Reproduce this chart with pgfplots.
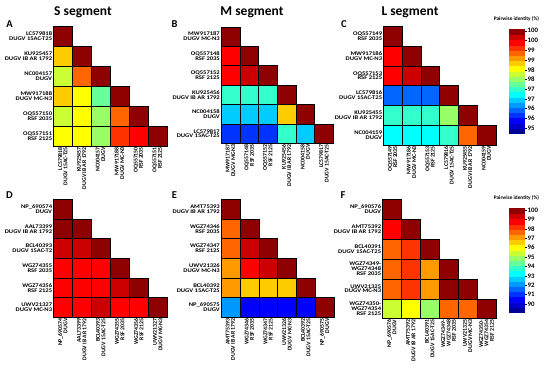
\documentclass[border=0pt]{standalone}
\usepackage{fontspec}
\setmainfont{Carlito}
\newfontfamily\ylabfont{Carlito}[FakeStretch=1.17]
\usepackage{pgfplots}
\pgfplotsset{compat=1.18}
\newcommand\ylab{\ylabfont\fontsize{5.6}{4.8}\selectfont\bfseries}
\newcommand\xlab{\fontsize{5.8}{5.4}\selectfont\bfseries}
\pgfplotsset{
 colormap={jetd}{rgb=(0,0,0.6) rgb=(0,0,0.8) rgb=(0,0,1) rgb=(0,0.2,1) rgb=(0,0.4,1) rgb=(0,0.6,1) rgb=(0,0.8,1) rgb=(0,1,1) rgb=(0.2,1,0.8) rgb=(0.4,1,0.6) rgb=(0.6,1,0.4) rgb=(0.8,1,0.2) rgb=(1,1,0) rgb=(1,0.8,0) rgb=(1,0.6,0) rgb=(1,0.4,0) rgb=(1,0.2,0) rgb=(1,0,0) rgb=(0.8,0,0) rgb=(0.56,0,0)},
 hm/.style 2 args={scale only axis, width=#1pt, height=#2pt, xmin=0.5, xmax=6.5, ymin=0.5, ymax=6.5, y dir=reverse, clip=false,
   axis line style={draw=none}, major tick length=0pt, tick style={draw=none},
   xtick={1,...,6}, ytick={1,...,6}, colormap name=jetd, colormap access=piecewise constant,
   xticklabel style={rotate=90, anchor=east, align=right, font=\xlab, inner sep=1pt},
   yticklabel style={align=right, font=\ylab, inner sep=1pt}},
 cells/.style 2 args={scatter, only marks, mark=square*, point meta=explicit,
   scatter/use mapped color={draw=black, fill=mapped color},
   mark size={#1pt/12}, mark options={yscale={#2/#1}, line width=0.3pt}},
 top/.style={point meta min=94.75, point meta max=100.09},
 bot/.style={point meta min=89.15, point meta max=100.21},
 cbar/.style={scale only axis, width=15pt, height=104pt, xmin=0, xmax=1, axis on top, clip=true,
   colormap name=jetd, colormap access=piecewise constant, xtick=\empty,
   ytick pos=right, yticklabel pos=right, tick align=outside, major tick length=2.5pt,
   tick style={draw=black, line width=0.4pt}, axis line style={line width=0.3pt},
   yticklabel style={font=\fontsize{6.8}{7}\selectfont\bfseries, inner sep=1pt},
   title={Pairwise identity (\%)}, title style={font=\fontsize{5.3}{6}\selectfont\bfseries, inner sep=1.5pt}},
 seg/.style={scatter, only marks, mark=square*, point meta=explicit,
   scatter/use mapped color={draw=mapped color, fill=mapped color},
   mark size=#1, mark options={xscale={7.5pt/(#1)}, line width=0.2pt}},
}
\begin{document}
\begin{tikzpicture}
\path[use as bounding box] (0,0) rectangle (550pt,-373pt);
% titles and panel letters
\node[font=\fontsize{13.5}{14}\selectfont\bfseries] at (83pt,-12pt) {S segment};
\node[font=\fontsize{13.5}{14}\selectfont\bfseries] at (252pt,-12pt) {M segment};
\node[font=\fontsize{13.5}{14}\selectfont\bfseries] at (410pt,-12pt) {L segment};
\node[font=\fontsize{10.5}{11}\selectfont\bfseries] at (9.5pt,-24pt) {A};
\node[font=\fontsize{10.5}{11}\selectfont\bfseries] at (174.5pt,-24pt) {B};
\node[font=\fontsize{10.5}{11}\selectfont\bfseries] at (344pt,-24pt) {C};
\node[font=\fontsize{10.5}{11}\selectfont\bfseries] at (9.5pt,-195pt) {D};
\node[font=\fontsize{10.5}{11}\selectfont\bfseries] at (174.5pt,-195pt) {E};
\node[font=\fontsize{10.5}{11}\selectfont\bfseries] at (343pt,-195pt) {F};

% A
\begin{axis}[hm={113.4}{120}, top, at={(53.3pt,-26pt)}, anchor=north west,
 xticklabels={{LC579818\\DUGV 15AC-T25},{KU925457\\DUGV IB AR 1792},{NC004157\\DUGV},{MW917188\\DUGV MC-N3},{OQ557150\\RSF 2035},{OQ557151\\RSF 2125}},
 yticklabels={{LC579818\\DUGV 15AC-T25},{KU925457\\DUGV IB AR 1792},{NC004157\\DUGV},{MW917188\\DUGV MC-N3},{OQ557150\\RSF 2035},{OQ557151\\RSF 2125}}]
\addplot[cells={113.4}{120}] table[meta=c] {
x y c
1 1 100
1 2 98.3
2 2 100
1 3 97.8
2 3 98.9
3 3 100
1 4 98.3
2 4 98.1
3 4 97.3
4 4 100
1 5 97.8
2 5 98.1
3 5 97.5
4 5 98.9
5 5 100
1 6 98.1
2 6 98.1
3 6 97.5
4 6 99.2
5 6 99.4
6 6 100
};
\end{axis}

% B
\begin{axis}[hm={112.3}{116.6}, top, at={(221pt,-26.7pt)}, anchor=north west,
 xticklabels={{MW917187\\DUGV MC-N3},{OQ557148\\RSF 2035},{OQ557152\\RSF 2125},{KU925456\\DUGV IB AR 1792},{NC004158\\DUGV},{LC579817\\DUGV 15AC-T25}},
 yticklabels={{MW917187\\DUGV MC-N3},{OQ557148\\RSF 2035},{OQ557152\\RSF 2125},{KU925456\\DUGV IB AR 1792},{NC004158\\DUGV},{LC579817\\DUGV 15AC-T25}}]
\addplot[cells={112.3}{116.6}] table[meta=c] {
x y c
1 1 100
1 2 99.4
2 2 100
1 3 99.45
2 3 99.7
3 3 100
1 4 97.0
2 4 97.1
3 4 97.0
4 4 100
1 5 96.5
2 5 96.6
3 5 96.5
4 5 98.3
5 5 100
1 6 95.7
2 6 95.7
3 6 95.6
4 6 97.0
5 6 96.5
6 6 100
};
\end{axis}

% C
\begin{axis}[hm={112.4}{119}, top, at={(383.3pt,-26pt)}, anchor=north west,
 xticklabels={{OQ557149\\RSF 2035},{MW917186\\DUGV MC-N3},{OQ557153\\RSF 2125},{LC579816\\DUGV 15AC-T25},{KU925455\\DUGV IB AR 1792},{NC004159\\DUGV}},
 yticklabels={{OQ557149\\RSF 2035},{MW917186\\DUGV MC-N3},{OQ557153\\RSF 2125},{LC579816\\DUGV 15AC-T25},{KU925455\\DUGV IB AR 1792},{NC004159\\DUGV}}]
\addplot[cells={112.4}{119}] table[meta=c] {
x y c
1 1 100
1 2 99.4
2 2 100
1 3 99.45
2 3 99.6
3 3 100
1 4 95.9
2 4 95.9
3 4 95.9
4 4 100
1 5 97.1
2 5 97.1
3 5 97.1
4 5 97.5
5 5 100
1 6 96.7
2 6 96.7
3 6 96.7
4 6 97.0
5 6 98.9
6 6 100
};
\end{axis}

% colour scale, top
\begin{axis}[cbar, top, ymin=94.75, ymax=100.09, at={(509pt,-29pt)}, anchor=north west,
 ytick={95,95.5,...,100}, yticklabels={95,96,96,97,97,98,98,99,99,100,100}]
\addplot[seg=2.7pt] table[meta=c] {
x y c
0.5 94.884 94.884
0.5 95.151 95.151
0.5 95.418 95.418
0.5 95.685 95.685
0.5 95.952 95.952
0.5 96.219 96.219
0.5 96.486 96.486
0.5 96.753 96.753
0.5 97.020 97.020
0.5 97.287 97.287
0.5 97.554 97.554
0.5 97.821 97.821
0.5 98.088 98.088
0.5 98.355 98.355
0.5 98.622 98.622
0.5 98.889 98.889
0.5 99.156 99.156
0.5 99.423 99.423
0.5 99.690 99.690
0.5 99.957 99.957
};
\end{axis}

% D
\begin{axis}[hm={114}{118}, bot, at={(53.3pt,-199.3pt)}, anchor=north west,
 xticklabels={{NP\_690574\\DUGV},{AAL73399\\DUGV IB AR 1792},{BCL40393\\DUGV 15AC-T25},{WGZ74355\\RSF 2035},{WGZ74356\\RSF 2125},{UWV21327\\DUGV MC-N3}},
 yticklabels={{NP\_690574\\DUGV},{AAL73399\\DUGV IB AR 1792},{BCL40393\\DUGV 15AC-T2},{WGZ74355\\RSF 2035},{WGZ74356\\RSF 2125},{UWV21327\\DUGV MC-N3}}]
\addplot[cells={114}{118}] table[meta=c] {
x y c
1 1 100
1 2 99.8
2 2 100
1 3 99.4
2 3 99.4
3 3 100
1 4 98.8
2 4 98.8
3 4 98.8
4 4 100
1 5 98.6
2 5 98.8
3 5 98.9
4 5 99.3
5 5 100
1 6 98.8
2 6 98.9
3 6 99.2
4 6 98.9
5 6 98.8
6 6 100
};
\end{axis}

% E
\begin{axis}[hm={113}{118}, bot, at={(221pt,-199.3pt)}, anchor=north west,
 xticklabels={{AMT75393\\DUGV IB AR 1792},{WGZ74346\\RSF 2035},{WGZ74347\\RSF 2125},{UWV21326\\DUGV MC-N3},{BCL40392\\DUGV 15AC-T25},{NP\_690575\\DUGV}},
 yticklabels={{AMT75393\\DUGV IB AR 1792},{WGZ74346\\RSF 2035},{WGZ74347\\RSF 2125},{UWV21326\\DUGV MC-N3},{BCL40392\\DUGV 15AC-T25},{NP\_690575\\DUGV}}]
\addplot[cells={113}{118}] table[meta=c] {
x y c
1 1 100
1 2 97.7
2 2 100
1 3 97.7
2 3 99.4
3 3 100
1 4 97.3
2 4 98.8
3 4 99.2
4 4 100
1 5 97.2
2 5 96.6
3 5 96.6
4 5 96.6
5 5 100
1 6 92.2
2 6 90.5
3 6 90.5
4 6 90.4
5 6 90.6
6 6 100
};
\end{axis}

% F
\begin{axis}[hm={113.7}{119.3}, bot, at={(382.3pt,-199.3pt)}, anchor=north west,
 xticklabels={{NP\_690576\\DUGV},{AMT75392\\DUGV IB AR 1792},{BCL40391\\DUGV 15AC-T25},{WGZ74349-\\WGZ74348\\RSF 2035},{UWV21325\\DUGV MC-N3},{WGZ74350-\\WGZ74354\\RSF 2125}},
 yticklabels={{NP\_690576\\DUGV},{AMT75392\\DUGV IB AR 1792},{BCL40391\\DUGV 15AC-T25},{WGZ74349-\\WGZ74348\\RSF 2035},{UWV21325\\DUGV MC-N3},{WGZ74350-\\WGZ74354\\RSF 2125}}]
\addplot[cells={113.7}{119.3}] table[meta=c] {
x y c
1 1 100
1 2 98.8
2 2 100
1 3 97.7
2 3 98.3
3 3 100
1 4 97.6
2 4 98.2
3 4 97.1
4 4 100
1 5 97.6
2 5 98.2
3 5 97.1
4 5 99.8
5 5 100
1 6 95.5
2 6 96.0
3 6 95.0
4 6 97.6
5 6 97.6
6 6 100
};
\end{axis}

% colour scale, bottom
\begin{axis}[cbar, bot, ymin=89.15, ymax=100.21, at={(509pt,-208pt)}, anchor=north west,
 ytick={90,...,100}, yticklabels={90,91,92,93,94,95,96,97,98,99,100}]
\addplot[seg=2.7pt] table[meta=c] {
x y c
0.5 89.427 89.427
0.5 89.980 89.980
0.5 90.533 90.533
0.5 91.086 91.086
0.5 91.639 91.639
0.5 92.192 92.192
0.5 92.745 92.745
0.5 93.298 93.298
0.5 93.851 93.851
0.5 94.404 94.404
0.5 94.957 94.957
0.5 95.510 95.510
0.5 96.063 96.063
0.5 96.616 96.616
0.5 97.169 97.169
0.5 97.722 97.722
0.5 98.275 98.275
0.5 98.828 98.828
0.5 99.381 99.381
0.5 99.934 99.934
};
\end{axis}
\end{tikzpicture}
\end{document}
